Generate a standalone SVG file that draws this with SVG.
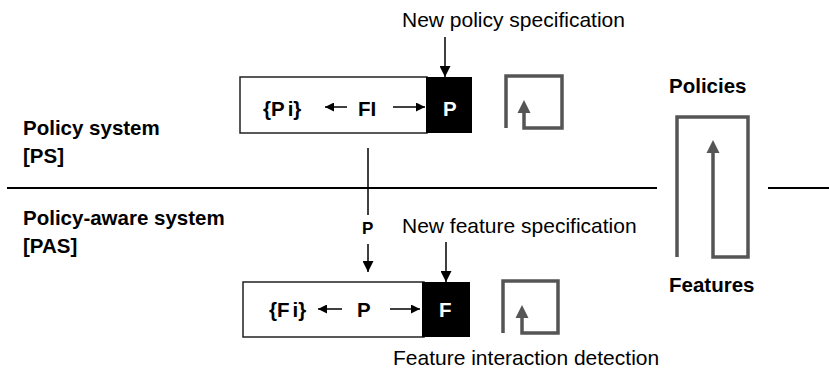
<svg xmlns="http://www.w3.org/2000/svg" width="829" height="378" viewBox="0 0 829 378">
  <style>
    text { font-family: "Liberation Sans", Arial, sans-serif; fill: #000; }
    .b { font-weight: bold; font-size: 20.5px; }
    .r { font-size: 21px; }
    .w { fill: #fff; }
    .box { fill: #fff; stroke: #222; stroke-width: 1.5; }
    .blk { fill: #000; }
    .ln { fill: none; stroke: #000; stroke-width: 1.5; }
    .loop { fill: none; stroke: #555; stroke-width: 3.5; stroke-linejoin: miter; }
  </style>
  <defs>
    <marker id="ah" viewBox="0 0 10 10" refX="10" refY="5" markerWidth="11" markerHeight="11" markerUnits="userSpaceOnUse" orient="auto">
      <path d="M0,0 L10,5 L0,10 Z" fill="#000"/>
    </marker>
    <marker id="sh" viewBox="0 0 10 10" refX="10" refY="5" markerWidth="9" markerHeight="9" markerUnits="userSpaceOnUse" orient="auto">
      <path d="M0,0 L10,5 L0,10 Z" fill="#000"/>
    </marker>
  </defs>

  <!-- layer divider -->
  <g id="divider">
    <line x1="7" y1="188" x2="657" y2="188" stroke="#000" stroke-width="2"/>
    <line x1="768" y1="188" x2="829" y2="188" stroke="#000" stroke-width="2"/>
  </g>

  <!-- layer labels -->
  <g id="ps-label">
    <text class="b" x="23" y="135">Policy system</text>
    <text class="b" x="23" y="163">[PS]</text>
  </g>
  <g id="pas-label">
    <text class="b" x="23" y="225">Policy-aware system</text>
    <text class="b" x="23" y="253">[PAS]</text>
  </g>

  <!-- policy system box -->
  <g id="policy-box">
    <rect class="box" x="240" y="77" width="187" height="56"/>
    <rect class="blk" x="426" y="77" width="46" height="56"/>
    <text class="b" x="263" y="116">{P<tspan dx="3">i</tspan>}</text>
    <text class="b" x="358" y="116">FI</text>
    <text class="b w" x="443" y="116">P</text>
  </g>

  <!-- policy-aware system box -->
  <g id="feature-box">
    <rect class="box" x="243" y="282" width="181" height="55"/>
    <rect class="blk" x="422" y="282" width="48" height="55"/>
    <text class="b" x="269" y="317">{F<tspan dx="3">i</tspan>}</text>
    <text class="b" x="357" y="317">P</text>
    <text class="b w" x="439" y="317">F</text>
  </g>

  <!-- cycle icons -->
  <g id="policy-cycle">
    <path class="loop" d="M506,128 V76 H562 V128 H524 V113" />
    <path d="M517.5,113 L524,100 L530.5,113 Z" fill="#555"/>
  </g>
  <g id="feature-cycle">
    <path class="loop" d="M503,333 V281 H558 V333 H522 V318" />
    <path d="M515.5,318 L522,305 L528.5,318 Z" fill="#555"/>
  </g>
  <g id="policies-features">
    <text class="b" x="669" y="93">Policies</text>
    <path class="loop" d="M677,257 V117 H748 V257 H713 V153" />
    <path d="M706.5,153 L713,140 L719.5,153 Z" fill="#555"/>
    <text class="b" x="669" y="292">Features</text>
  </g>

  <!-- annotations -->
  <g id="annotations">
    <text class="r" x="402" y="27">New policy specification</text>
    <text class="r" x="402" y="233">New feature specification</text>
    <text class="r" x="393" y="365">Feature interaction detection</text>
    <text class="b" x="362" y="234" style="font-size:17px">P</text>
  </g>

  <!-- connectors -->
  <g id="connectors">
    <path class="ln" d="M445,37 V77" marker-end="url(#ah)"/>
    <path class="ln" d="M446,242 V282" marker-end="url(#ah)"/>
    <path class="ln" d="M368,148 V215"/>
    <path class="ln" d="M368,244 V272" marker-end="url(#ah)"/>
    <path class="ln" d="M347,107 H325" marker-end="url(#sh)"/>
    <path class="ln" d="M393,107 H425" marker-end="url(#sh)"/>
    <path class="ln" d="M342,309 H318" marker-end="url(#sh)"/>
    <path class="ln" d="M390,309 H420" marker-end="url(#sh)"/>
  </g>
</svg>
